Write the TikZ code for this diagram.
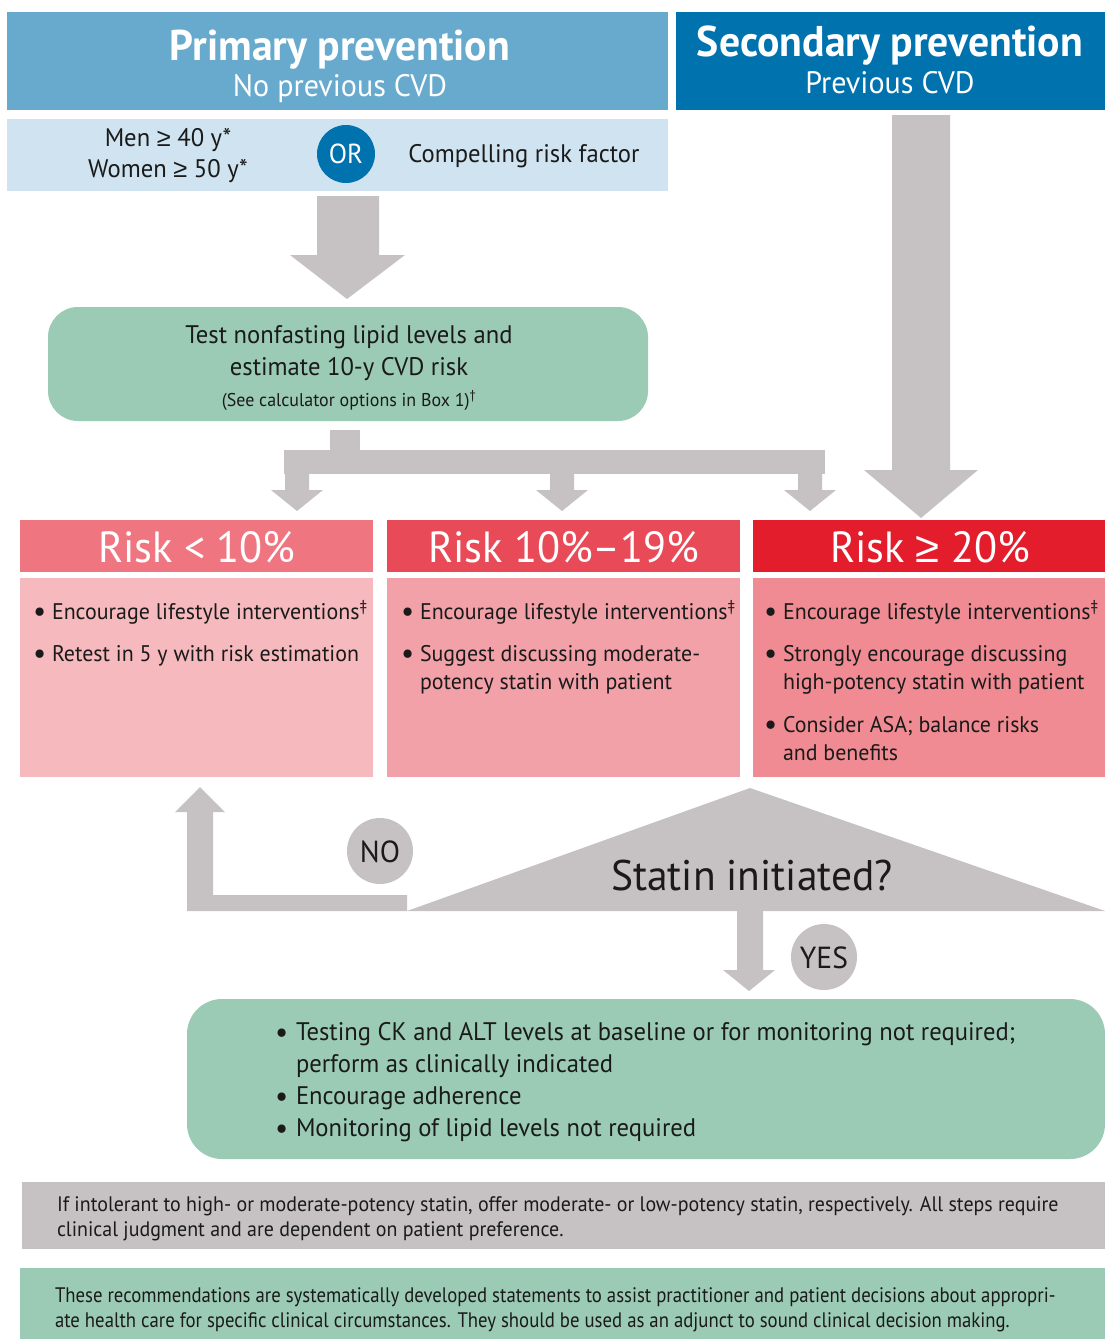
\documentclass[tikz,border=0pt]{standalone}
\usepackage{fontspec}
\setmainfont{PT Sans}[FakeStretch=0.97]
\newfontfamily\condf{PT Sans}[FakeStretch=0.95]
\newfontfamily\condg{PT Sans}[FakeStretch=0.893]
\newfontfamily\symf{Liberation Sans}
\definecolor{priblue}{HTML}{67AACE}
\definecolor{secblue}{HTML}{0072AE}
\definecolor{lightblue}{HTML}{CFE4F0}
\definecolor{gbox}{HTML}{C6C2C3}
\definecolor{gfill}{HTML}{9BCBB5}
\definecolor{hA}{HTML}{EF7580}
\definecolor{hB}{HTML}{E94A58}
\definecolor{hC}{HTML}{E31D2B}
\definecolor{bA}{HTML}{F6B9BE}
\definecolor{bB}{HTML}{F3A1A8}
\definecolor{bC}{HTML}{F08B93}
\definecolor{txtc}{HTML}{1A1A1A}
\newcommand{\bul}{{\fontsize{30}{30}\selectfont\raisebox{-2.5pt}{•}}}
\newcommand{\gesym}{{\symf ≥}}
\begin{document}
\begin{tikzpicture}[x=1pt,y=-1pt,
  every node/.style={inner sep=0pt,outer sep=0pt},
  panel/.style={anchor=north west,rectangle},
  lbl/.style={anchor=base,text=txtc},
  lblw/.style={anchor=base west,text=txtc},
  titlefont/.style={font=\fontsize{43}{48}\selectfont\bfseries,text=white,anchor=base},
  subfont/.style={font=\fontsize{31}{36}\selectfont,text=white,anchor=base},
  midfont/.style={font=\fontsize{25.4}{30}\selectfont},
  riskfont/.style={font=\fontsize{43.6}{48}\selectfont,text=white,anchor=base},
  bulfont/.style={font=\fontsize{22.6}{28}\selectfont},
  notefont/.style={font=\fontsize{21}{24}\selectfont\condf},
  notefontg/.style={font=\fontsize{21}{24}\selectfont\condg},
  blockarrow/.style={fill=gbox}
]
\useasboundingbox (0,0) rectangle (1105,1339);

% headers
\node[panel,fill=priblue,minimum width=661pt,minimum height=98pt] (prim) at (7,12) {};
\node[panel,fill=secblue,minimum width=429pt,minimum height=98pt] (sec) at (676,12) {};
\node[titlefont] (primt) at (340,60) {Primary prevention};
\node[subfont] (prims) at (340,96) {No previous CVD};
\node[titlefont] (sect) at (890,56) {Secondary prevention};
\node[subfont] (secs) at (890,93) {Previous CVD};

% criteria band
\node[panel,fill=lightblue,minimum width=661pt,minimum height=72pt] (band) at (7,119) {};
\node[lbl,midfont] (men) at (168,146) {Men \gesym{} 40 y*};
\node[lbl,midfont] (women) at (168,177) {Women \gesym{} 50 y*};
\node[circle,fill=secblue,minimum size=58pt] (or) at (346,154) {};
\node[lbl,font=\fontsize{27.5}{30}\selectfont,text=white] (ort) at (346,163) {OR};
\node[lbl,midfont] (comp) at (524,162) {Compelling risk factor};

% arrow band -> test box
\fill[blockarrow] (317,196) -- (379,196) -- (379,255) -- (405,255) -- (347,299) -- (290,255) -- (317,255) -- cycle;
% secondary arrow
\fill[blockarrow] (892,115) -- (950,115) -- (950,470) -- (978,470) -- (921,518) -- (864,470) -- (892,470) -- cycle;

% test box
\node[panel,fill=gfill,rounded corners=30pt,minimum width=600pt,minimum height=114pt] (test) at (48,307) {};
\node[lbl,midfont] (test1) at (349,343) {Test nonfasting lipid levels and};
\node[lbl,midfont] (test2) at (349,375) {estimate 10-y CVD risk};
\node[lbl,font=\fontsize{18.5}{20}\selectfont] (test3) at (349,406) {(See calculator options in Box 1)\textsuperscript{\dag}};

% distribution bars
\fill[blockarrow] (330,430) rectangle (360,451);
\fill[blockarrow] (284,450) rectangle (825,474);
\foreach \cx in {297,562,810}{
  \fill[blockarrow] (\cx-12,473) -- (\cx+12,473) -- (\cx+12,490) -- (\cx+26,490) -- (\cx,511) -- (\cx-26,490) -- (\cx-12,490) -- cycle;
}

% risk headers
\node[panel,fill=hA,minimum width=353pt,minimum height=52pt] (hA) at (20,520) {};
\node[panel,fill=hB,minimum width=353pt,minimum height=52pt] (hB) at (387,520) {};
\node[panel,fill=hC,minimum width=352pt,minimum height=52pt] (hC) at (753,520) {};
\node[riskfont] (rA) at (197,562) {Risk < 10\%};
\node[riskfont] (rB) at (564,562) {Risk 10\%–19\%};
\node[riskfont] (rC) at (930,562) {Risk \gesym{} 20\%};

% risk bodies
\node[panel,fill=bA,minimum width=353pt,minimum height=199pt] (bA) at (20,578) {};
\node[panel,fill=bB,minimum width=353pt,minimum height=199pt] (bB) at (387,578) {};
\node[panel,fill=bC,minimum width=352pt,minimum height=199pt] (bC) at (753,578) {};

% bullets A
\node[lblw,bulfont] (a1b) at (33,619) {\bul};
\node[lblw,bulfont] (a1) at (52,619) {Encourage lifestyle interventions\textsuperscript{\ddag}};
\node[lblw,bulfont] (a2b) at (33,661) {\bul};
\node[lblw,bulfont] (a2) at (52,661) {Retest in 5 y with risk estimation};
% bullets B
\node[lblw,bulfont] (b1b) at (401,619) {\bul};
\node[lblw,bulfont] (b1) at (420,619) {Encourage lifestyle interventions\textsuperscript{\ddag}};
\node[lblw,bulfont] (b2b) at (401,661) {\bul};
\node[lblw,bulfont] (b2) at (420,661) {Suggest discussing moderate-};
\node[lblw,bulfont] (b2c) at (420,689) {potency statin with patient};
% bullets C
\node[lblw,bulfont] (c1b) at (764,619) {\bul};
\node[lblw,bulfont] (c1) at (783,619) {Encourage lifestyle interventions\textsuperscript{\ddag}};
\node[lblw,bulfont] (c2b) at (764,661) {\bul};
\node[lblw,bulfont] (c2) at (783,661) {Strongly encourage discussing};
\node[lblw,bulfont] (c2c) at (783,689) {high-potency statin with patient};
\node[lblw,bulfont] (c3b) at (764,732) {\bul};
\node[lblw,bulfont] (c3) at (783,732) {Consider ASA; balance risks};
\node[lblw,bulfont] (c3c) at (783,760) {and benefits};

% decision triangle
\fill[gbox] (407,911) -- (750,788) -- (1105,911) -- cycle;
\node[lbl,font=\fontsize{42.8}{46}\selectfont] (statin) at (752,890) {Statin initiated?};

% NO branch
\fill[blockarrow] (407,895) -- (407,911) -- (187,911) -- (187,812) -- (175,812) -- (200,787) -- (225,812) -- (213,812) -- (213,895) -- cycle;
\node[circle,fill=gbox,minimum size=66pt] (no) at (380,851) {};
\node[lbl,font=\fontsize{30.5}{32}\selectfont] (not) at (380,862) {NO};

% YES branch
\fill[blockarrow] (737,910) -- (763,910) -- (763,970) -- (775,970) -- (749,991) -- (723,970) -- (737,970) -- cycle;
\node[circle,fill=gbox,minimum size=66pt] (yes) at (824,957) {};
\node[lbl,font=\fontsize{30.5}{32}\selectfont] (yest) at (824,968) {YES};

% bottom action box
\node[panel,fill=gfill,rounded corners=35pt,minimum width=918pt,minimum height=160pt] (act) at (187,999) {};
\node[lblw,midfont] (d1b) at (275,1040) {\bul};
\node[lblw,midfont] (d1) at (296,1040) {Testing CK and ALT levels at baseline or for monitoring not required;};
\node[lblw,midfont] (d1c) at (296,1072) {perform as clinically indicated};
\node[lblw,midfont] (d2b) at (275,1104) {\bul};
\node[lblw,midfont] (d2) at (296,1104) {Encourage adherence};
\node[lblw,midfont] (d3b) at (275,1136) {\bul};
\node[lblw,midfont] (d3) at (296,1136) {Monitoring of lipid levels not required};

% notes
\node[panel,fill=gbox,minimum width=1083pt,minimum height=67pt] (note1) at (22,1182) {};
\node[lblw,notefont] (n1a) at (57,1211) {If intolerant to high- or moderate-potency statin, offer moderate- or low-potency statin, respectively. All steps require};
\node[lblw,notefont] (n1b) at (57,1236) {clinical judgment and are dependent on patient preference.};
\node[panel,fill=gfill,minimum width=1085pt,minimum height=71pt] (note2) at (20,1268) {};
\node[lblw,notefontg] (n2a) at (55,1302) {These recommendations are systematically developed statements to assist practitioner and patient decisions about appropri-};
\node[lblw,notefontg] (n2b) at (55,1327) {ate health care for specific clinical circumstances. They should be used as an adjunct to sound clinical decision making.};
\end{tikzpicture}
\end{document}
